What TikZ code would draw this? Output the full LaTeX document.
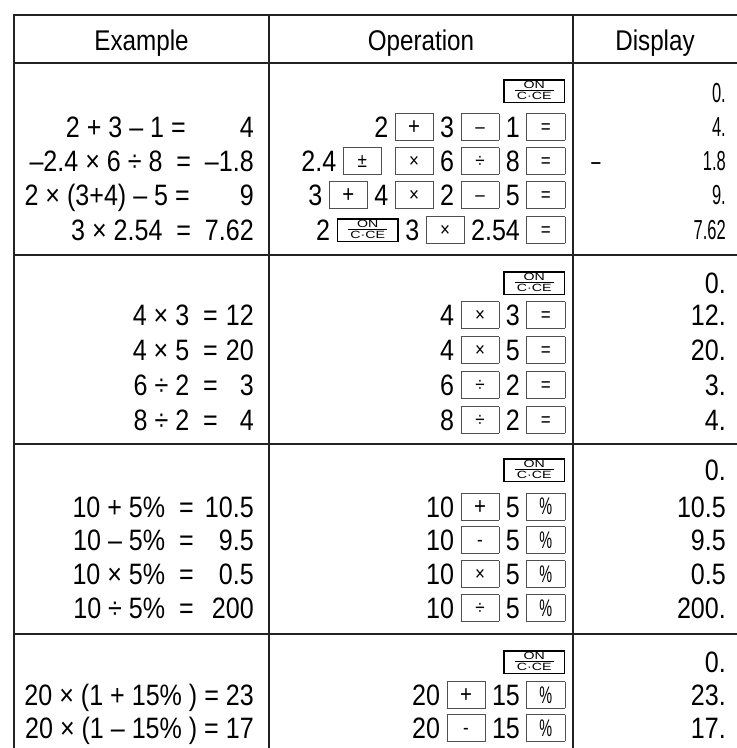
\documentclass[tikz,border=0pt]{standalone}
\usepackage{fontspec}
\setmainfont{Liberation Sans}
\newfontfamily\condfont[FakeStretch=0.85]{Liberation Sans}
\newfontfamily\narrowfont[FakeStretch=0.6]{Liberation Sans}
\newfontfamily\widefont[FakeStretch=1.35]{Liberation Sans}
\usetikzlibrary{positioning}
\definecolor{gridGray}{RGB}{35, 35, 35}
\definecolor{keyGray}{RGB}{80, 80, 80}

% calculator keys inside an operation row
\newcommand{\keybox}[1]{\hspace{6.5pt}\raisebox{-2.6pt}{\fboxsep=0pt\fboxrule=0.7pt\color{keyGray}%
    \fbox{\makebox[37.5pt]{\rule{0pt}{26pt}\raisebox{6.4pt}{\color{black}\fontsize{20}{20}\selectfont #1}}}}\hspace{6.5pt}}
\newcommand{\bigplus}{\raisebox{-1.2pt}{\fontsize{24}{24}\selectfont +}}
\newcommand{\pct}{\raisebox{-1.6pt}{\narrowfont\fontsize{24}{24}\selectfont\%}}
\newcommand{\onkey}{\hspace{6.5pt}\fboxsep=0pt\fboxrule=1.6pt%
    \fbox{\makebox[59pt]{\rule{0pt}{21pt}\raisebox{2.3pt}{\widefont\fontsize{10.5}{10.5}\selectfont
    \vbox{\hbox to 39pt{\hss ON\hss}\kern1pt\hrule height0.8pt\kern1.3pt\hbox to 39pt{\hss C·CE\hss}}}}}\hspace{6.5pt}}

\begin{document}
\begin{tikzpicture}[
    x=1pt, y=-1pt,
    % Table rules
    gridline/.style={line width=1.6pt, draw=gridGray, line cap=rect},
    heavyline/.style={line width=2.8pt, draw=gridGray, line cap=rect},
    % Text styles
    headtext/.style={anchor=base, inner sep=0pt, font=\condfont\fontsize{28.5}{30}\selectfont},
    extext/.style={anchor=base east, inner sep=0pt, font=\condfont\fontsize{29.5}{30}\selectfont},
    optext/.style={anchor=base east, inner sep=0pt, font=\condfont\fontsize{29.5}{30}\selectfont},
    dsptext/.style={anchor=base east, inner sep=0pt, font=\condfont\fontsize{29.5}{30}\selectfont},
    dspsmall/.style={anchor=base east, inner sep=0pt, font=\narrowfont\fontsize{27.5}{28}\selectfont}
]
\useasboundingbox (0,0) rectangle (737,748);

% ============================================
% TABLE RULES
% ============================================
\draw[gridline] (14,15) -- (737,15);
\draw[gridline] (14,63) -- (737,63);
\draw[gridline] (14,255) -- (737,255);
\draw[gridline] (14,444) -- (737,444);
\draw[gridline] (14,634) -- (737,634);
\draw[gridline] (14,15) -- (14,748);
\draw[gridline] (269,15) -- (269,748);
\draw[gridline] (573,15) -- (573,444);
\draw[heavyline] (573,444) -- (573,748);

% ============================================
% HEADER
% ============================================
\node[headtext] (hexample) at (141.5,50) {Example};
\node[headtext] (hoperation) at (421,50) {Operation};
\node[headtext] (hdisplay) at (655,50) {Display};

% ============================================
% BLOCK A: MIXED OPERATIONS
% ============================================
\node[extext] (exA1) at (254,137.5) {2 + 3 – 1 =\makebox[68pt][r]{4}};
\node[extext] (exA2) at (254,171.5) {–2.4 × 6 ÷ 8\ \ =\ \ –1.8};
\node[extext] (exA3) at (254,205.5) {2 × (3+4) – 5 =\makebox[64pt][r]{9}};
\node[extext] (exA4) at (254,240.5) {3 × 2.54\ \ =\ \ 7.62};

\node[optext] (opA0) at (565.5,101.5) {\onkey};
\node[optext] (opA1) at (565.5,137.5) {2\keybox{\bigplus}3\keybox{–}1\keybox{=}};
\node[optext] (opA2) at (565.5,171.5) {2.4\keybox{±}\keybox{×}6\keybox{÷}8\keybox{=}};
\node[optext] (opA3) at (565.5,205.5) {3\keybox{\bigplus}4\keybox{×}2\keybox{–}5\keybox{=}};
\node[optext] (opA4) at (565.5,240.5) {2\onkey 3\keybox{×}2.54\keybox{=}};

\node[dspsmall] (dspA0) at (726,102) {0.};
\node[dspsmall] (dspA1) at (726,136.5) {4.};
\node[dspsmall] (dspA2) at (726,170.5) {1.8};
\node[dspsmall, anchor=base] (dspA2sign) at (596,170.5) {–};
\node[dspsmall] (dspA3) at (726,204.5) {9.};
\node[dspsmall] (dspA4) at (726,239.5) {7.62};

% ============================================
% BLOCK B: MULTIPLY AND DIVIDE
% ============================================
\node[extext] (exB1) at (254,325.5) {4 × 3\ \ =\makebox[36pt][r]{12}};
\node[extext] (exB2) at (254,360.5) {4 × 5\ \ =\makebox[36pt][r]{20}};
\node[extext] (exB3) at (254,395.5) {6 ÷ 2\ \ =\makebox[36pt][r]{3}};
\node[extext] (exB4) at (254,430.5) {8 ÷ 2\ \ =\makebox[36pt][r]{4}};

\node[optext] (opB0) at (565.5,293.5) {\onkey};
\node[optext] (opB1) at (565.5,325.5) {4\keybox{×}3\keybox{=}};
\node[optext] (opB2) at (565.5,360.5) {4\keybox{×}5\keybox{=}};
\node[optext] (opB3) at (565.5,395.5) {6\keybox{÷}2\keybox{=}};
\node[optext] (opB4) at (565.5,430.5) {8\keybox{÷}2\keybox{=}};

\node[dsptext] (dspB0) at (726,293.5) {0.};
\node[dsptext] (dspB1) at (726,325.5) {12.};
\node[dsptext] (dspB2) at (726,360.5) {20.};
\node[dsptext] (dspB3) at (726,395.5) {3.};
\node[dsptext] (dspB4) at (726,430.5) {4.};

% ============================================
% BLOCK C: PERCENT
% ============================================
\node[extext] (exC1) at (254,517) {10 + 5\%\ \ =\makebox[60pt][r]{10.5}};
\node[extext] (exC2) at (254,550.5) {10 – 5\%\ \ =\makebox[60pt][r]{9.5}};
\node[extext] (exC3) at (254,584.5) {10 × 5\%\ \ =\makebox[60pt][r]{0.5}};
\node[extext] (exC4) at (254,618.5) {10 ÷ 5\%\ \ =\makebox[60pt][r]{200}};

\node[optext] (opC0) at (565.5,480.5) {\onkey};
\node[optext] (opC1) at (565.5,517) {10\keybox{\bigplus}5\keybox{\pct}};
\node[optext] (opC2) at (565.5,550.5) {10\keybox{-}5\keybox{\pct}};
\node[optext] (opC3) at (565.5,584.5) {10\keybox{×}5\keybox{\pct}};
\node[optext] (opC4) at (565.5,618.5) {10\keybox{÷}5\keybox{\pct}};

\node[dsptext] (dspC0) at (726,480.5) {0.};
\node[dsptext] (dspC1) at (726,517) {10.5};
\node[dsptext] (dspC2) at (726,550.5) {9.5};
\node[dsptext] (dspC3) at (726,584.5) {0.5};
\node[dsptext] (dspC4) at (726,618.5) {200.};

% ============================================
% BLOCK D: MARK-UP AND DISCOUNT
% ============================================
\node[extext] (exD1) at (254,705.5) {20 × (1 + 15\% ) = 23};
\node[extext] (exD2) at (254,738.5) {20 × (1 – 15\% ) = 17};

\node[optext] (opD0) at (565.5,672.5) {\onkey};
\node[optext] (opD1) at (565.5,705.5) {20\keybox{\bigplus}15\keybox{\pct}};
\node[optext] (opD2) at (565.5,738.5) {20\keybox{-}15\keybox{\pct}};

\node[dsptext] (dspD0) at (726,672.5) {0.};
\node[dsptext] (dspD1) at (726,705.5) {23.};
\node[dsptext] (dspD2) at (726,738.5) {17.};

\end{tikzpicture}
\end{document}
